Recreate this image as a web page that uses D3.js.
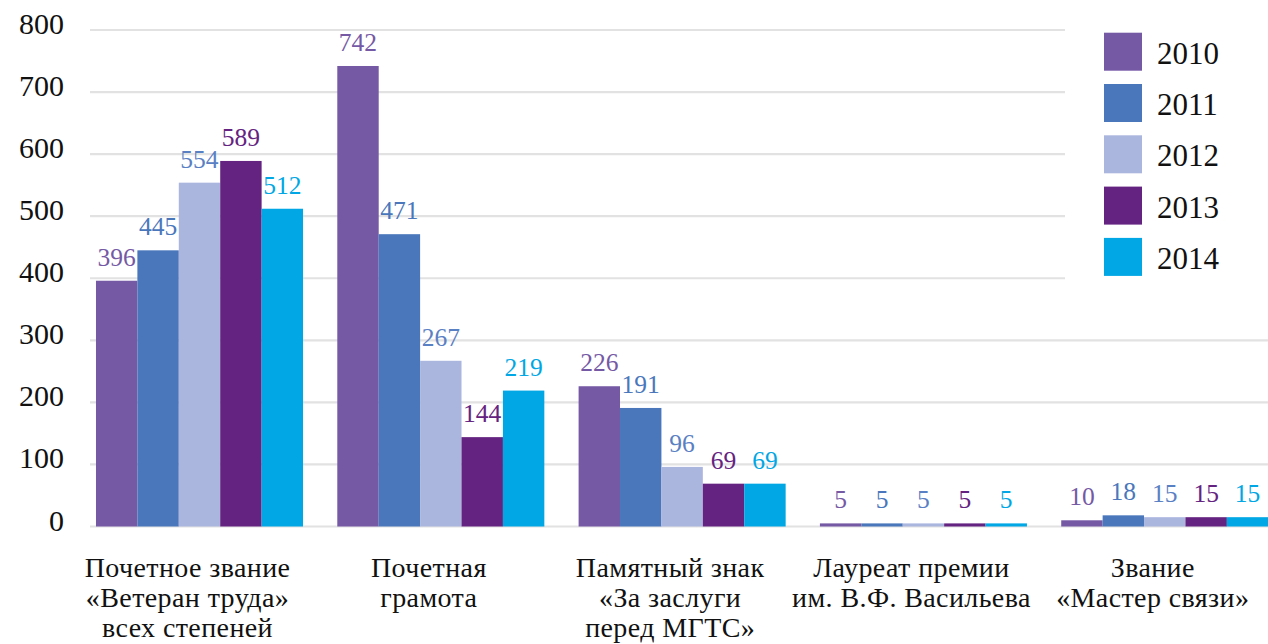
<!DOCTYPE html>
<html>
<head>
<meta charset="utf-8">
<script src="https://cdn.jsdelivr.net/npm/d3@7"></script>
<style>
  html, body { margin: 0; padding: 0; background: #fff; }
  svg { display: block; font-family: "Liberation Serif", "DejaVu Serif", serif; }
</style>
</head>
<body>
<svg id="chart" width="1268" height="644"></svg>
<script>
// ---- data ----
const categories = [
  ["Почетное звание", "«Ветеран труда»", "всех степеней"],
  ["Почетная", "грамота"],
  ["Памятный знак", "«За заслуги", "перед МГТС»"],
  ["Лауреат премии", "им. В.Ф. Васильева"],
  ["Звание", "«Мастер связи»"]
];
const years = ["2010", "2011", "2012", "2013", "2014"];
const values2010 = [396, 742, 226, 5, 10];
const values2011 = [445, 471, 191, 5, 18];
const values2012 = [554, 267, 96, 5, 15];
const values2013 = [589, 144, 69, 5, 15];
const values2014 = [512, 219, 69, 5, 15];
const yTicks = [0, 100, 200, 300, 400, 500, 600, 700, 800];

const series = [values2010, values2011, values2012, values2013, values2014];
const barColors = ["#7559a5", "#4a77bc", "#abb6df", "#652381", "#00a7e4"];
const labelColors = ["#7559a5", "#4a77bc", "#5a80c4", "#652381", "#00a7e4"];

// ---- layout ----
const svg = d3.select("#chart");
const W = 1268, H = 644;
const gridLeft = 90;

const x0 = d3.scaleBand()
  .domain(d3.range(categories.length))
  .range([78.85, 1285.4])
  .paddingInner(0.142)
  .paddingOuter(0.071);

const x1 = d3.scaleBand()
  .domain(years)
  .range([0, x0.bandwidth()]);

const y = d3.scaleLinear().domain([0, 800]).range([526.5, 30]);

// gridlines
const grid = svg.append("g").attr("class", "grid");
grid.selectAll("line").data(yTicks).join("line")
  .attr("x1", gridLeft).attr("x2", W)
  .attr("y1", d => y(d)).attr("y2", d => y(d))
  .attr("stroke", "#e2e2e2").attr("stroke-width", 2.2);

// y axis labels
const yAxis = d3.axisLeft(y).tickValues(yTicks).tickSize(0).tickPadding(0);
const ya = svg.append("g").attr("transform", "translate(64,0)").call(yAxis);
ya.select(".domain").remove();
ya.selectAll("text")
  .attr("font-family", "Liberation Serif")
  .attr("font-size", 30)
  .attr("fill", "#111")
  .attr("dy", null)
  .attr("y", 3.5)
  .attr("dominant-baseline", "alphabetic")
  .attr("text-anchor", "end");

// legend background (hides grid lines behind legend)
svg.append("rect")
  .attr("x", 1065).attr("y", 0).attr("width", W - 1065).attr("height", 290)
  .attr("fill", "#fff");

// bars
const groups = svg.append("g").selectAll("g").data(categories).join("g")
  .attr("transform", (d, i) => `translate(${x0(i)},0)`);

groups.selectAll("rect")
  .data((d, i) => years.map((yr, k) => ({ yr, k, v: series[k][i] })))
  .join("rect")
  .attr("x", d => x1(d.yr))
  .attr("width", x1.bandwidth())
  .attr("y", d => y(d.v))
  .attr("height", d => y(0) - y(d.v))
  .attr("fill", d => barColors[d.k]);

groups.selectAll("text.val")
  .data((d, i) => years.map((yr, k) => ({ yr, k, v: series[k][i] })))
  .join("text")
  .attr("class", "val")
  .attr("x", d => x1(d.yr) + x1.bandwidth() / 2)
  .attr("y", d => y(d.v) - 15)
  .attr("text-anchor", "middle")
  .attr("font-size", 25.5)
  .attr("fill", d => labelColors[d.k])
  .text(d => d.v);

// category labels
const cat = svg.append("g").selectAll("text").data(categories).join("text")
  .attr("text-anchor", "middle")
  .attr("font-size", 28)
  .attr("letter-spacing", 0.4)
  .attr("fill", "#111")
  .attr("transform", (d, i) => `translate(${x0(i) + x0.bandwidth() / 2 - 12},577)`);
cat.selectAll("tspan").data(d => d).join("tspan")
  .attr("x", 0)
  .attr("y", (d, j) => j * 30)
  .text(d => d);

// legend
const legend = svg.append("g").selectAll("g").data(years).join("g")
  .attr("transform", (d, i) => `translate(1104,${32.7 + i * 51.3})`);
legend.append("rect").attr("width", 38).attr("height", 38)
  .attr("fill", (d, i) => barColors[i]);
legend.append("text").attr("x", 53).attr("y", 31)
  .attr("font-size", 31).attr("fill", "#111").text(d => d);
</script>
</body>
</html>
